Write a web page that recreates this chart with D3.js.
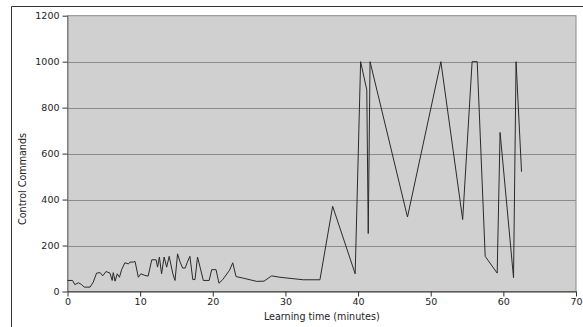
<!DOCTYPE html>
<html><head><meta charset="utf-8">
<script src="https://cdn.jsdelivr.net/npm/d3@7"></script>
<style>body{margin:0;background:#fff}svg{display:block}text{font-family:"DejaVu Sans",sans-serif}</style>
</head><body><svg id="c" width="583" height="327"></svg>
<script>
const times = [0,0.7,1.0,1.5,1.95,2.3,3.1,3.55,4.0,4.5,4.85,5.3,5.85,6.15,6.3,6.55,6.85,7.15,7.45,7.9,8.4,8.6,9.05,9.3,9.75,10.1,10.65,11.1,11.6,12.2,12.4,12.65,12.95,13.3,13.65,14.0,14.5,14.8,15.15,15.5,15.85,16.2,16.5,16.85,17.25,17.55,17.9,18.25,18.7,19.5,19.85,20.45,20.85,21.35,22.3,22.75,23.2,24.2,26.05,27.05,28.1,29.25,32.45,34.75,36.5,39.6,40.35,41.2,41.4,41.65,46.8,51.4,54.4,55.7,56.4,57.5,59.15,59.55,61.4,61.75,62.5];
const commands = [48,48,30,38,30,19,19,41,80,82,68,87,80,48,82,45,77,62,95,125,120,128,128,131,62,77,70,67,138,138,106,150,77,150,106,153,77,48,164,128,102,102,128,153,52,52,150,106,48,48,95,95,36,51,92,125,65,58,44,45,68,62,51,51,371,77,1000,877,252,1000,324,1000,313,1000,1000,153,80,692,60,1000,521];
const xTicks = [0,10,20,30,40,50,60,70];
const yTicks = [0,200,400,600,800,1000,1200];
const xTitle = "Learning time (minutes)";
const yTitle = "Control Commands";

const svg = d3.select("#c");
const L = 67.5, R = 576, T = 15.7, B = 291.5;
const x = d3.scaleLinear().domain([0,70]).range([L,R]);
const y = d3.scaleLinear().domain([0,1200]).range([B,T]);

// frame
svg.append("line").attr("x1",11.5).attr("x2",583).attr("y1",6.5).attr("y2",6.5).attr("stroke","#333");
svg.append("line").attr("x1",11.5).attr("x2",11.5).attr("y1",6.5).attr("y2",327).attr("stroke","#333");

// plot background
svg.append("rect").attr("x",L).attr("y",T).attr("width",R-L).attr("height",B-T).attr("fill","#d0d0d0").attr("stroke","#8a8a8a");

// grid
svg.append("g").selectAll("line").data(yTicks.filter(d=>d>0&&d<1200)).join("line")
  .attr("x1",L).attr("x2",R).attr("y1",d=>Math.round(y(d))+0.5).attr("y2",d=>Math.round(y(d))+0.5)
  .attr("stroke","#8c8c8c").attr("stroke-width",1);

// axes
const ya = svg.append("g").attr("transform",`translate(${L},0)`)
  .call(d3.axisLeft(y).tickValues(yTicks).tickFormat(d3.format("d")).tickSize(5).tickPadding(3).tickSizeOuter(0));
const xa = svg.append("g").attr("transform",`translate(0,${B})`)
  .call(d3.axisBottom(x).tickValues(xTicks).tickFormat(d3.format("d")).tickSize(5).tickPadding(2).tickSizeOuter(0));
[ya,xa].forEach(a=>{
  a.selectAll("text").attr("font-size","9.5px").attr("fill","#222").attr("font-family","DejaVu Sans");
  a.selectAll(".tick line").attr("stroke","#333");
});
ya.select(".domain").attr("stroke","#777");
xa.select(".domain").attr("stroke","#333");

// line
svg.append("path").datum(times.map((t,i)=>[t,commands[i]]))
  .attr("fill","none").attr("stroke","#2a2a2a").attr("stroke-width",1)
  .attr("d",d3.line().x(d=>x(d[0])).y(d=>y(d[1])));

// titles
svg.append("text").attr("x",(L+R)/2).attr("y",320).attr("text-anchor","middle")
  .attr("font-size","9.6px").attr("fill","#222").text(xTitle);
svg.append("text").attr("transform","translate(25.5,179) rotate(-90)").attr("text-anchor","middle")
  .attr("font-size","9.6px").attr("fill","#222").text(yTitle);
</script></body></html>
